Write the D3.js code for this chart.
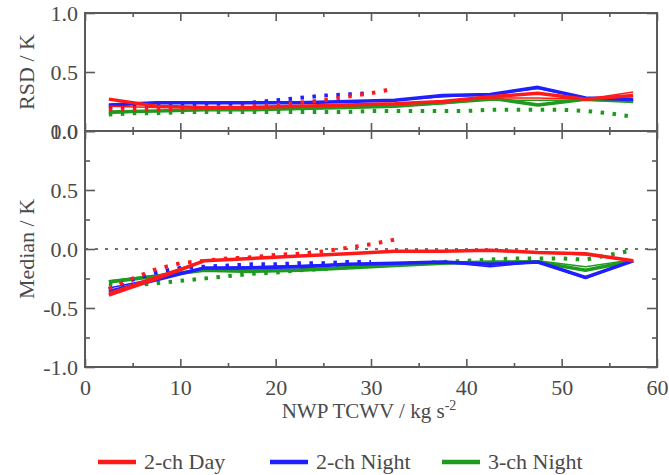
<!DOCTYPE html>
<html>
<head>
<meta charset="utf-8">
<script src="https://cdn.jsdelivr.net/npm/d3@7"></script>
<style>
  html, body { margin: 0; padding: 0; background: #fff; }
  svg text { font-family: "Liberation Serif", "Times New Roman", serif; fill: #4a4a4a; }
</style>
</head>
<body>
<svg id="chart" width="669" height="475"></svg>
<script>
// TCWV bin centres for the binned statistics (solid lines)
const binCentres = [2.5, 7.5, 12.5, 17.5, 22.5, 27.5, 32.5, 37.5, 42.5, 47.5, 52.5, 57.5];
// Finer grid for the dotted comparison curves
const fineX = [2.5, 5, 7.5, 10, 12.5, 15, 17.5, 20, 22.5, 25, 27.5, 30, 32.5, 35, 37.5, 40, 42.5, 45, 47.5, 50, 52.5, 55, 57.5];

const seriesNames = ["2-ch Day", "2-ch Night", "3-ch Night"];
const seriesColors = ["#ff1a1a", "#1f1fff", "#1e9a1e"];

// Robust standard deviation (K) – thick solid
const rsdThick = [
  [0.27, 0.21, 0.20, 0.20, 0.21, 0.22, 0.23, 0.25, 0.29, 0.32, 0.27, 0.30],
  [0.22, 0.24, 0.24, 0.24, 0.24, 0.25, 0.26, 0.30, 0.31, 0.37, 0.28, 0.27],
  [0.16, 0.17, 0.18, 0.18, 0.19, 0.20, 0.21, 0.24, 0.28, 0.22, 0.27, 0.25]
];
// Robust standard deviation (K) – thin solid
const rsdThin = [
  [0.21, 0.20, 0.20, 0.20, 0.21, 0.22, 0.23, 0.25, 0.28, 0.28, 0.27, 0.33],
  [0.22, 0.24, 0.24, 0.24, 0.24, 0.25, 0.26, 0.29, 0.31, 0.36, 0.28, 0.26],
  [0.15, 0.17, 0.18, 0.18, 0.19, 0.20, 0.21, 0.23, 0.26, 0.26, 0.26, 0.25]
];
// Robust standard deviation (K) – dotted
const rsdDotted = [
  [0.18, 0.18, 0.18, 0.19, 0.19, 0.20, 0.21, 0.22, 0.24, 0.26, 0.29, 0.32, 0.36],
  [0.20, 0.21, 0.22, 0.22, 0.23, 0.23, 0.24, 0.26, 0.28, 0.30, 0.31, 0.32],
  [0.14, 0.15, 0.15, 0.16, 0.16, 0.16, 0.16, 0.16, 0.16, 0.16, 0.16, 0.17, 0.17, 0.17, 0.17, 0.17, 0.18, 0.18, 0.18, 0.18, 0.17, 0.15, 0.12]
];

// Median difference (K) – thick solid
const medThick = [
  [-0.39, -0.25, -0.10, -0.08, -0.06, -0.04, -0.02, -0.02, -0.01, -0.03, -0.04, -0.10],
  [-0.36, -0.26, -0.16, -0.16, -0.15, -0.13, -0.12, -0.11, -0.13, -0.11, -0.24, -0.10],
  [-0.28, -0.23, -0.18, -0.19, -0.18, -0.16, -0.14, -0.12, -0.11, -0.11, -0.18, -0.10]
];
// Median difference (K) – thin solid
const medThin = [
  [-0.37, -0.23, -0.10, -0.08, -0.06, -0.04, -0.02, -0.02, -0.01, -0.03, -0.05, -0.10],
  [-0.33, -0.25, -0.16, -0.15, -0.14, -0.13, -0.12, -0.11, -0.15, -0.11, -0.25, -0.10],
  [-0.27, -0.22, -0.17, -0.18, -0.17, -0.15, -0.13, -0.12, -0.11, -0.10, -0.15, -0.09]
];
// Median difference (K) – dotted
const medDotted = [
  [-0.34, -0.25, -0.17, -0.12, -0.10, -0.08, -0.07, -0.05, -0.04, -0.02, 0.01, 0.04, 0.08],
  [-0.34, -0.26, -0.20, -0.16, -0.15, -0.14, -0.13, -0.13, -0.12, -0.12, -0.11, -0.11],
  [-0.30, -0.31, -0.29, -0.27, -0.25, -0.23, -0.21, -0.20, -0.18, -0.17, -0.15, -0.14, -0.13, -0.12, -0.11, -0.10, -0.09, -0.08, -0.08, -0.08, -0.09, -0.05, -0.01]
];

const xTickValues = [0, 10, 20, 30, 40, 50, 60];
const xMinorValues = [5, 15, 25, 35, 45, 55];
const rsdTicks = [0, 0.5, 1.0];
const medTicks = [-1.0, -0.5, 0, 0.5, 1.0];
const medMinor = [-0.75, -0.25, 0.25, 0.75];

const svg = d3.select("#chart");
const frameColor = "#5a5a5a";
const fontSize = 22;
const left = 85, right = 657;
const topPanel = { y0: 13, y1: 131 };
const botPanel = { y0: 131, y1: 367 };

const x = d3.scaleLinear().domain([0, 60]).range([left, right]);
const yRsd = d3.scaleLinear().domain([0, 1]).range([topPanel.y1, topPanel.y0]);
const yMed = d3.scaleLinear().domain([-1, 1]).range([botPanel.y1, botPanel.y0]);

const fmt = d => d3.format(".1f")(d).replace("−", "-");

function styleAxis(g) {
  g.select(".domain").remove();
  g.selectAll(".tick line").attr("stroke", frameColor).attr("stroke-width", 1.6);
  g.selectAll(".tick text").attr("font-size", fontSize).attr("fill", "#4a4a4a")
    .style("font-family", "'Liberation Serif', serif");
}

function drawPanel(panel, y, majors, minors) {
  // x ticks on top and bottom edges of the frame, pointing inward
  svg.append("g").attr("transform", `translate(0,${panel.y0})`)
    .call(d3.axisTop(x).tickValues(xTickValues).tickSize(-8).tickFormat(""))
    .call(styleAxis);
  svg.append("g").attr("transform", `translate(0,${panel.y0})`)
    .call(d3.axisTop(x).tickValues(xMinorValues).tickSize(-4).tickFormat(""))
    .call(styleAxis);
  svg.append("g").attr("transform", `translate(0,${panel.y1})`)
    .call(d3.axisBottom(x).tickValues(xTickValues).tickSize(-8).tickFormat(""))
    .call(styleAxis);
  svg.append("g").attr("transform", `translate(0,${panel.y1})`)
    .call(d3.axisBottom(x).tickValues(xMinorValues).tickSize(-4).tickFormat(""))
    .call(styleAxis);
  // y ticks, left with labels, right without
  svg.append("g").attr("transform", `translate(${left},0)`)
    .call(d3.axisLeft(y).tickValues(majors).tickSize(-10).tickPadding(7).tickFormat(fmt))
    .call(styleAxis);
  svg.append("g").attr("transform", `translate(${right},0)`)
    .call(d3.axisRight(y).tickValues(majors).tickSize(-10).tickFormat(""))
    .call(styleAxis);
  if (minors.length) {
    svg.append("g").attr("transform", `translate(${left},0)`)
      .call(d3.axisLeft(y).tickValues(minors).tickSize(-5).tickFormat(""))
      .call(styleAxis);
    svg.append("g").attr("transform", `translate(${right},0)`)
      .call(d3.axisRight(y).tickValues(minors).tickSize(-5).tickFormat(""))
      .call(styleAxis);
  }
}

function drawSeries(y, thick, thin, dotted) {
  const g = svg.append("g");
  const line = d3.line().x(d => x(d[0])).y(d => y(d[1]));
  for (let i = 2; i >= 0; i--) {
    const c = seriesColors[i];
    g.append("path").datum(dotted[i].map((v, k) => [fineX[k], v]))
      .attr("d", line).attr("fill", "none").attr("stroke", c)
      .attr("stroke-width", 4).attr("stroke-dasharray", "3.5,8.5");
    g.append("path").datum(thick[i].map((v, k) => [binCentres[k], v]))
      .attr("d", line).attr("fill", "none").attr("stroke", c)
      .attr("stroke-width", 3.5).attr("stroke-linejoin", "round");
    g.append("path").datum(thin[i].map((v, k) => [binCentres[k], v]))
      .attr("d", line).attr("fill", "none").attr("stroke", c)
      .attr("stroke-width", 1.5).attr("stroke-linejoin", "round");
  }
}

// zero reference in the median panel
svg.append("line")
  .attr("x1", x(0)).attr("x2", x(60)).attr("y1", yMed(0)).attr("y2", yMed(0))
  .attr("stroke", "#444").attr("stroke-width", 1.4).attr("stroke-dasharray", "3,7");

drawSeries(yRsd, rsdThick, rsdThin, rsdDotted);
drawSeries(yMed, medThick, medThin, medDotted);

drawPanel(topPanel, yRsd, rsdTicks, []);
drawPanel(botPanel, yMed, medTicks, medMinor);

// frames
[topPanel, botPanel].forEach(p => {
  svg.append("rect").attr("x", left).attr("y", p.y0)
    .attr("width", right - left).attr("height", p.y1 - p.y0)
    .attr("fill", "none").attr("stroke", frameColor).attr("stroke-width", 2);
});

// x tick labels under the lower panel
svg.append("g").attr("transform", `translate(0,${botPanel.y1})`)
  .call(d3.axisBottom(x).tickValues(xTickValues).tickSize(0).tickPadding(12).tickFormat(d3.format("d")))
  .call(styleAxis);

// axis titles
svg.append("text").attr("x", 369).attr("y", 418).attr("text-anchor", "middle")
  .attr("font-size", 21)
  .html('NWP TCWV / kg s<tspan dy="-8" font-size="14">-2</tspan>');

svg.append("text").attr("transform", `translate(34,${(topPanel.y0 + topPanel.y1) / 2}) rotate(-90)`)
  .attr("text-anchor", "middle").attr("font-size", fontSize).text("RSD / K");
svg.append("text").attr("transform", `translate(34,${(botPanel.y0 + botPanel.y1) / 2}) rotate(-90)`)
  .attr("text-anchor", "middle").attr("font-size", fontSize).text("Median / K");

// legend
const legendX = [98, 270, 442];
const legend = svg.append("g");
seriesNames.forEach((name, i) => {
  const g = legend.append("g").attr("transform", `translate(${legendX[i]},462)`);
  g.append("line").attr("x1", 0).attr("x2", 38).attr("y1", 0).attr("y2", 0)
    .attr("stroke", seriesColors[i]).attr("stroke-width", 4.5);
  g.append("text").attr("x", 46).attr("y", 7).attr("font-size", fontSize).text(name);
});
</script>
</body>
</html>
